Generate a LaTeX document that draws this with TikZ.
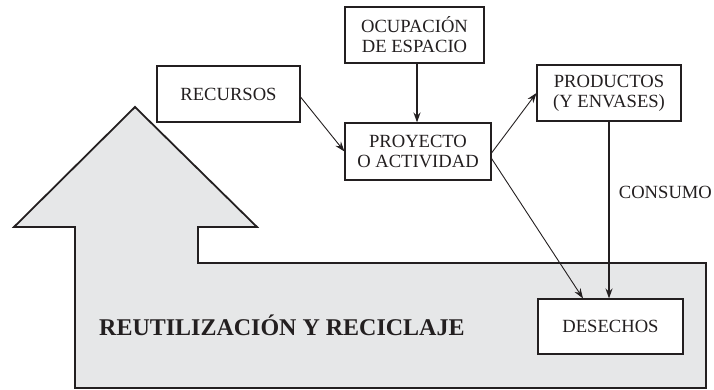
\documentclass[tikz,border=0pt]{standalone}
\usepackage{fontspec}
\setmainfont{Liberation Serif}
\usetikzlibrary{arrows.meta}
\definecolor{ink}{HTML}{231F20}
\definecolor{shade}{HTML}{E6E7E8}
\begin{document}
\begin{tikzpicture}[x=1pt,y=-1pt,
  box/.style={draw=ink,line width=1.1pt,fill=white,text=ink,align=center,inner sep=0pt,
    font=\fontsize{18.6}{20}\selectfont},
  thin/.style={draw=ink,line width=0.9pt,-{Stealth[length=10pt,width=7pt]}},
  thick/.style={draw=ink,line width=1.8pt,-{Stealth[length=10pt,width=7pt]}}]
\useasboundingbox (0,0) rectangle (714,390);
% big recycling arrow
\draw[draw=ink,fill=shade,line width=1.8pt,line join=miter]
  (135,107) -- (257,227) -- (198,227) -- (198,263) -- (706,263) -- (706,388)
  -- (75,388) -- (75,227) -- (14,227) -- cycle;
\node[anchor=west,text=ink,inner sep=0pt,font=\bfseries\fontsize{24}{26}\selectfont] (reu) at (99,325.5)
  {REUTILIZACIÓN Y RECICLAJE};
% boxes
\node[box,minimum width=143pt,minimum height=56pt] (rec) at (228.5,94) {RECURSOS};
\node[box,minimum width=139pt,minimum height=56pt] (ocu) at (414.5,35) {OCUPACIÓN\\DE ESPACIO};
\node[box,minimum width=146pt,minimum height=57pt] (pro) at (418,151.5) {PROYECTO\\O ACTIVIDAD};
\node[box,minimum width=144pt,minimum height=56pt] (prd) at (609,93) {PRODUCTOS\\(Y ENVASES)};
\node[box,minimum width=145pt,minimum height=55pt] (des) at (610.5,326.5) {DESECHOS};
% connectors
\draw[thick] ([xshift=2.5pt]ocu.south) -- ([xshift=-1pt]pro.north);
\draw[thin] ([yshift=-3pt]rec.east) -- (pro.west);
\draw[thin] ([yshift=-1.5pt]pro.east) -- (prd.west);
\draw[thin] ([yshift=-7pt]pro.east) -- ([xshift=-27.5pt]des.north);
\draw[thick] (prd.south) -- (prd.south |- des.north)
  node[pos=0.4,anchor=west,text=ink,inner sep=0pt,font=\fontsize{18.6}{20}\selectfont,xshift=9pt] (con) {CONSUMO};
\end{tikzpicture}
\end{document}
